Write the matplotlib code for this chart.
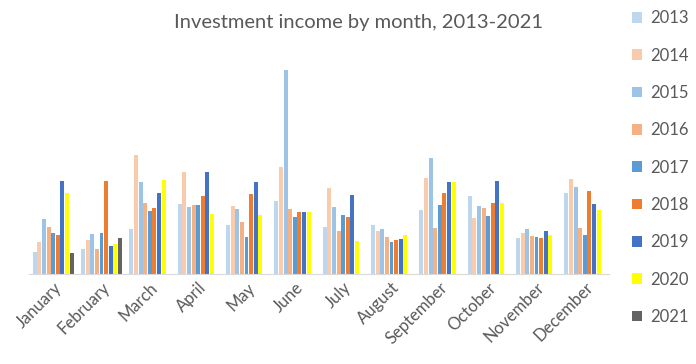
import matplotlib.pyplot as plt
import numpy as np

months = ["January", "February", "March", "April", "May", "June", "July",
          "August", "September", "October", "November", "December"]
years = ["2013", "2014", "2015", "2016", "2017", "2018", "2019", "2020", "2021"]

# income per month, one list per year (2021 only has Jan and Feb)
y2013 = [22, 25, 45, 70, 49, 73, 47, 49, 64, 78, 36, 81]
y2014 = [32, 34, 119, 102, 68, 107, 86, 43, 96, 56, 41, 95]
y2015 = [55, 40, 92, 67, 65, 204, 67, 45, 116, 68, 45, 87]
y2016 = [47, 25, 71, 69, 52, 65, 43, 37, 46, 66, 38, 46]
y2017 = [41, 41, 63, 69, 37, 57, 59, 32, 69, 58, 37, 39]
y2018 = [39, 93, 66, 78, 80, 62, 57, 34, 81, 71, 36, 83]
y2019 = [93, 28, 81, 102, 92, 62, 79, 35, 92, 93, 43, 70]
y2020 = [81, 30, 94, 60, 59, 62, 33, 39, 92, 71, 39, 64]
y2021 = [21, 36]

series = [y2013, y2014, y2015, y2016, y2017, y2018, y2019, y2020, y2021]
colors = ["#BDD7EE", "#F8CBAD", "#9DC3E6", "#F4B183", "#5B9BD5",
          "#ED7D31", "#4472C4", "#FFFF00", "#636363"]

plt.rcParams['font.family'] = ['Lato', 'DejaVu Sans']

fig = plt.figure(figsize=(6.96, 3.64), dpi=100)
ax = fig.add_axes([29 / 696, 90 / 364, 580 / 696, 224 / 364])

x = np.arange(len(months))
slot = 0.86 / len(series)
for i, (vals, c, yr) in enumerate(zip(series, colors, years)):
    pos = x[:len(vals)] - 0.43 + slot * (i + 0.5)
    ax.bar(pos, vals, width=slot * 0.85, color=c, label=yr)

ax.set_xlim(-0.5, 11.5)
ax.set_ylim(0, 224)
ax.set_yticks([])
ax.set_xticks(x)
ax.set_xticklabels(months, rotation=45, ha="right", rotation_mode="anchor",
                   fontsize=12, color="#595959")
ax.tick_params(axis="x", length=0, pad=4)
for s in ["top", "right", "left"]:
    ax.spines[s].set_visible(False)
ax.spines["bottom"].set_color("#D9D9D9")

fig.suptitle("Investment income by month, 2013-2021", x=0.515, y=0.962,
             fontsize=14.5, color="#595959")

fig.legend(loc="upper left", bbox_to_anchor=(624 / 696, 1 - 2 / 364),
           frameon=False, fontsize=12, labelcolor="#595959", borderpad=0,
           handlelength=0.6, handleheight=0.6, handletextpad=0.5,
           labelspacing=1.28)

fig.savefig("out.png", dpi=100)
